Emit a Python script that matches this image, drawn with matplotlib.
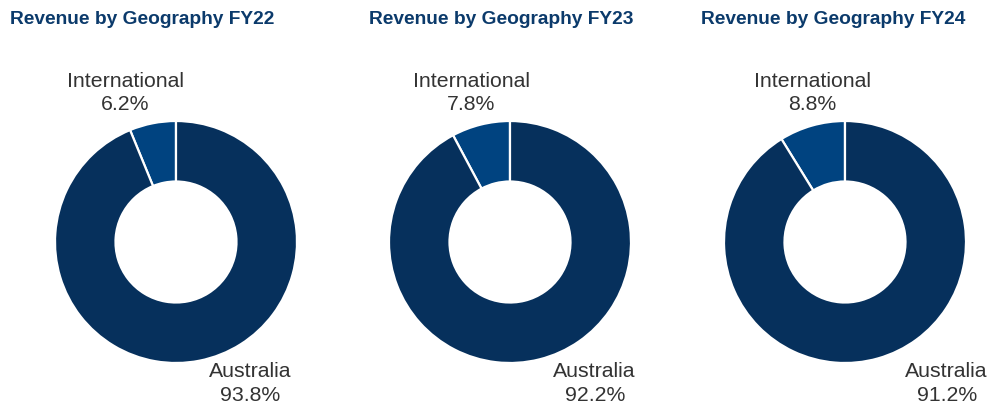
import matplotlib.pyplot as plt

plt.rcParams['font.family'] = ['Liberation Sans', 'DejaVu Sans']

# Revenue split by geography (%)
years = ['FY22', 'FY23', 'FY24']
international = [6.2, 7.8, 8.8]
australia = [93.8, 92.2, 91.2]

# Label anchor points (in units of the donut radius)
intl_label_pos = [(-0.42, 1.23), (-0.32, 1.23), (-0.27, 1.23)]
aus_label_pos = [(0.61, -1.17), (0.70, -1.17), (0.84, -1.17)]

centers_x = [176, 510, 845]     # pixel centres of each donut
title_x = [10, 369, 701]

c_aus = '#06305c'
c_intl = '#004380'
c_title = '#0b3a6b'
c_text = '#333333'

W, H = 989, 403
fig = plt.figure(figsize=(W / 100, H / 100), dpi=100)

R = 121           # outer radius in px
span = 1.5        # axes half-width in radius units
cy = 242

for i, yr in enumerate(years):
    size = 2 * span * R
    ax = fig.add_axes([(centers_x[i] - size / 2) / W, (H - cy - size / 2) / H,
                       size / W, size / H])
    ax.pie([international[i], australia[i]], colors=[c_intl, c_aus],
           startangle=90, counterclock=True, radius=1,
           wedgeprops=dict(width=0.5, edgecolor='white', linewidth=1.6))
    ax.set_xlim(-span, span)
    ax.set_ylim(-span, span)
    ax.set_aspect('equal')
    ax.axis('off')

    ix, iy = intl_label_pos[i]
    ax.text(ix, iy, f'International\n{international[i]:.1f}%', ha='center',
            va='center', fontsize=15.3, color=c_text, linespacing=1.3, clip_on=False)
    axx, ayy = aus_label_pos[i]
    ax.text(axx, ayy, f'Australia\n{australia[i]:.1f}%', ha='center',
            va='center', fontsize=15.3, color=c_text, linespacing=1.3, clip_on=False)

    fig.text(title_x[i] / W, 1 - 20 / H, f'Revenue by Geography {yr}',
             ha='left', va='center', fontsize=13.8, fontweight='bold', color=c_title)

fig.savefig('out.png', dpi=100)
